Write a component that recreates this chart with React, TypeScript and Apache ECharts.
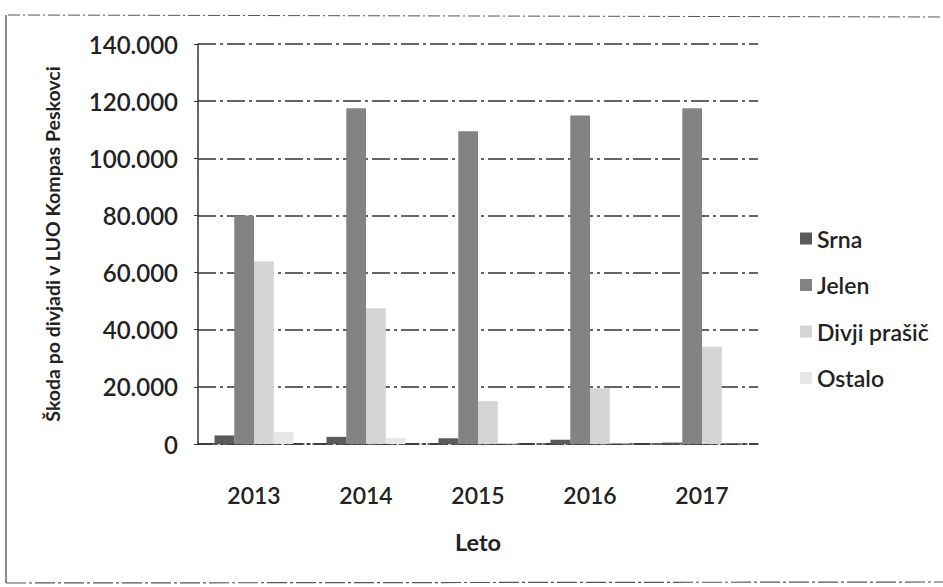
import React, { useEffect, useRef } from "react";
import * as echarts from "echarts";

const years = ["2013", "2014", "2015", "2016", "2017"];
const srna = [3000, 2500, 2000, 1500, 500];
const jelen = [80000, 117500, 109500, 115000, 117500];
const divjiPrasic = [64000, 47500, 15000, 19500, 34000];
const ostalo = [4200, 2000, 300, 200, 100];
const seriesNames = ["Srna", "Jelen", "Divji prašič", "Ostalo"];
const seriesColors = ["#5a5a5a", "#838383", "#d4d4d4", "#e6e6e6"];

const FONT = "Lato, 'Open Sans', sans-serif";

export default function App() {
  const ref = useRef<HTMLDivElement>(null);
  useEffect(() => {
    if (!ref.current) return;
    const chart = echarts.init(ref.current, null, { renderer: "svg" });
    const data = [srna, jelen, divjiPrasic, ostalo];
    chart.setOption({
      animation: false,
      backgroundColor: "#ffffff",
      textStyle: { fontFamily: FONT },
      grid: { left: 198, right: 185, top: 44, bottom: 143 },
      legend: {
        orient: "vertical",
        left: 795,
        top: 222,
        itemWidth: 12,
        itemHeight: 12,
        itemGap: 23.5,
        icon: "rect",
        textStyle: { fontFamily: FONT, fontSize: 23, color: "#222", fontWeight: 600 },
        data: seriesNames,
      },
      xAxis: {
        type: "category",
        data: years,
        name: "Leto",
        nameLocation: "middle",
        nameGap: 86,
        nameTextStyle: { fontFamily: FONT, fontSize: 23.5, fontWeight: "bold", color: "#222" },
        axisLine: { show: true, lineStyle: { color: "#333", width: 1.5, type: [14, 3, 3, 3] } },
        axisTick: { show: false },
        axisLabel: { fontFamily: FONT, fontSize: 23, color: "#222", fontWeight: 600, margin: 39 },
      },
      yAxis: {
        type: "value",
        min: 0,
        max: 140000,
        interval: 20000,
        name: "Škoda po divjadi v LUO Kompas Peskovci",
        nameLocation: "middle",
        nameGap: 136,
        nameTextStyle: { fontFamily: FONT, fontSize: 19.5, fontWeight: "bold", color: "#222" },
        axisLine: { show: true, lineStyle: { color: "#333", width: 1.5 } },
        axisTick: { show: true, length: 4, lineStyle: { color: "#333" } },
        axisLabel: {
          fontFamily: FONT,
          fontSize: 24,
          color: "#222",
          fontWeight: 600,
          margin: 20,
          formatter: (v: number) => (v === 0 ? "0" : (v / 1000).toFixed(0) + ".000"),
        },
        splitLine: { show: true, lineStyle: { color: "#333", width: 1.5, type: [18, 4, 3, 4] } },
      },
      series: seriesNames.map((n, i) => ({
        name: n,
        type: "bar",
        data: data[i],
        barGap: "0%",
        barCategoryGap: "29.5%",
        itemStyle: { color: seriesColors[i] },
      })),
      graphic: [
        { type: "line", shape: { x1: 8, y1: 15, x2: 943, y2: 17 }, style: { stroke: "#555", lineWidth: 1, lineDash: [12, 3, 2, 3] } },
        { type: "line", shape: { x1: 6, y1: 15, x2: 6, y2: 583 }, style: { stroke: "#444", lineWidth: 1.2 } },
        { type: "line", shape: { x1: 6, y1: 583, x2: 943, y2: 582 }, style: { stroke: "#555", lineWidth: 1.2, lineDash: [20, 3, 3, 3] } },
      ],
    });
    return () => chart.dispose();
  }, []);
  return <div ref={ref} style={{ position: "fixed", left: 0, top: 0, width: 943, height: 587 }} />;
}
